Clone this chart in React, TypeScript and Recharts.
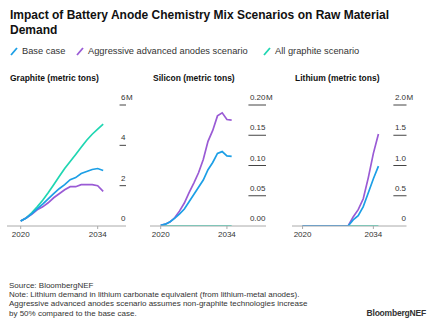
import { Line, LineChart, XAxis, YAxis } from "recharts";

const YEARS = [2020, 2021, 2022, 2023, 2024, 2025, 2026, 2027, 2028, 2029, 2030, 2031, 2032, 2033, 2034, 2035];

// million metric tons
const GRAPHITE_BASE = [0.25, 0.4, 0.6, 0.85, 1.08, 1.35, 1.6, 1.85, 2.05, 2.3, 2.4, 2.6, 2.7, 2.8, 2.85, 2.75];
const GRAPHITE_AGGRESSIVE = [0.25, 0.4, 0.58, 0.8, 0.95, 1.15, 1.4, 1.6, 1.8, 1.95, 1.95, 2.05, 2.05, 2.05, 2.0, 1.72];
const GRAPHITE_ALL = [0.25, 0.4, 0.65, 0.95, 1.28, 1.65, 2.05, 2.45, 2.85, 3.2, 3.55, 3.9, 4.25, 4.55, 4.8, 5.05];

const SILICON_BASE = [0.001, 0.003, 0.007, 0.013, 0.02, 0.028, 0.04, 0.052, 0.064, 0.076, 0.093, 0.105, 0.12, 0.123, 0.116, 0.115];
const SILICON_AGGRESSIVE = [0.001, 0.003, 0.007, 0.014, 0.025, 0.038, 0.055, 0.071, 0.088, 0.11, 0.14, 0.158, 0.182, 0.187, 0.176, 0.175];
const SILICON_ALL = [0, 0, 0, 0, 0, 0, 0, 0, 0, 0, 0, 0, 0, 0, 0, 0];

const LITHIUM_BASE = [0, 0, 0, 0, 0, 0, 0, 0, 0, 0, 0.1, 0.17, 0.32, 0.55, 0.78, 0.99];
const LITHIUM_AGGRESSIVE = [0, 0, 0, 0, 0, 0, 0, 0, 0, 0, 0.15, 0.27, 0.45, 0.8, 1.2, 1.52];
const LITHIUM_ALL = [0, 0, 0, 0, 0, 0, 0, 0, 0, 0, 0, 0, 0, 0, 0, 0];

const GRAPHITE_TICKS = [0, 2, 4, 6];
const GRAPHITE_LABELS = ["0", "2", "4", "6"];
const SILICON_TICKS = [0, 0.05, 0.1, 0.15, 0.2];
const SILICON_LABELS = ["0.00", "0.05", "0.10", "0.15", "0.20"];
const LITHIUM_TICKS = [0, 0.5, 1, 1.5, 2];
const LITHIUM_LABELS = ["0", "0.5", "1.0", "1.5", "2.0"];
const X_TICKS = [2020, 2034];

const BLUE = "#1c9fe6";
const PURPLE = "#9a5bd5";
const TEAL = "#1fd6b2";
const FONT = '"Liberation Sans", Arial, Helvetica, sans-serif';

let ctx: CanvasRenderingContext2D | null = null;
function textWidth(s: string, size: number) {
  if (!ctx) ctx = document.createElement("canvas").getContext("2d");
  if (!ctx) return s.length * size * 0.55;
  ctx.font = `${size}px ${FONT}`;
  return ctx.measureText(s).width;
}

interface PanelProps {
  title: string;
  left: number;
  plotWidth: number;
  xDomain: [number, number];
  ticks: number[];
  labels: string[];
  base: number[];
  aggressive: number[];
  allGraphite: number[];
}

function Panel({ title, left, plotWidth, xDomain, ticks, labels, base, aggressive, allGraphite }: PanelProps) {
  const data = YEARS.map((year, i) => ({
    year,
    base: base[i],
    aggressive: aggressive[i],
    allGraphite: allGraphite[i],
  }));
  const marginRight = 14;
  const width = plotWidth + marginRight;
  const right = plotWidth;

  const renderTick = (props: any) => {
    const { y, payload } = props;
    const idx = ticks.indexOf(payload.value);
    const label = labels[idx] ?? "";
    const w = textWidth(label, 8);
    return (
      <g>
        <text x={right - 0.5} y={y - 5} textAnchor="end" fontSize={8} fill="#333">
          {label}
        </text>
        {idx === ticks.length - 1 && (
          <text x={right} y={y - 5} fontSize={8} fill="#333">
            M
          </text>
        )}
        {idx > 0 && <line x1={right - w - 2} x2={right} y1={y} y2={y} stroke="#444" strokeWidth={1} />}
      </g>
    );
  };

  return (
    <>
      <div style={{ position: "absolute", left: left + 3, top: 72, fontSize: 8.5, fontWeight: 700, lineHeight: "12px", color: "#111", whiteSpace: "nowrap" }}>
        {title}
      </div>
      <div style={{ position: "absolute", left, top: 85 }}>
        <LineChart width={width} height={161} data={data} margin={{ top: 20, right: marginRight, left: 0, bottom: 0 }}>
          <XAxis
            dataKey="year"
            type="number"
            domain={xDomain}
            ticks={X_TICKS}
            allowDataOverflow
            height={20}
            stroke="#aaa"
            tickSize={3}
            tickMargin={2}
            tick={{ fontSize: 8, fill: "#333" }}
          />
          <YAxis
            orientation="right"
            mirror
            domain={[ticks[0], ticks[ticks.length - 1]]}
            ticks={ticks}
            axisLine={false}
            tickLine={false}
            tick={renderTick}
            allowDataOverflow
          />
          <Line dataKey="allGraphite" stroke={TEAL} strokeWidth={1.7} dot={false} isAnimationActive={false} />
          <Line dataKey="aggressive" stroke={PURPLE} strokeWidth={1.7} dot={false} isAnimationActive={false} />
          <Line dataKey="base" stroke={BLUE} strokeWidth={1.7} dot={false} isAnimationActive={false} />
        </LineChart>
      </div>
    </>
  );
}

function Slash({ color }: { color: string }) {
  return (
    <svg width={8} height={9} style={{ position: "absolute", left: 0, top: 2 }}>
      <line x1={1} y1={8} x2={7} y2={1} stroke={color} strokeWidth={1.8} />
    </svg>
  );
}

const LEGEND = [
  { label: "Base case", color: BLUE, x: 10 },
  { label: "Aggressive advanced anodes scenario", color: PURPLE, x: 76 },
  { label: "All graphite scenario", color: TEAL, x: 263 },
];

export default function App() {
  return (
    <div style={{ position: "absolute", left: 0, top: 0, width: 433, height: 328, background: "#fff", fontFamily: FONT, color: "#222", overflow: "hidden" }}>
      <div style={{ position: "absolute", left: 10, top: 7.5, width: 400, fontSize: 12, fontWeight: 700, lineHeight: "15px", color: "#111" }}>
        Impact of Battery Anode Chemistry Mix Scenarios on Raw Material Demand
      </div>
      {LEGEND.map((l) => (
        <div key={l.label} style={{ position: "absolute", left: l.x, top: 45, height: 12, fontSize: 9.3, lineHeight: "12px", color: "#333", whiteSpace: "nowrap" }}>
          <Slash color={l.color} />
          <span style={{ marginLeft: 12 }}>{l.label}</span>
        </div>
      ))}
      <Panel
        title="Graphite (metric tons)"
        left={7}
        plotWidth={119}
        xDomain={[2017.51, 2039.15]}
        ticks={GRAPHITE_TICKS}
        labels={GRAPHITE_LABELS}
        base={GRAPHITE_BASE}
        aggressive={GRAPHITE_AGGRESSIVE}
        allGraphite={GRAPHITE_ALL}
      />
      <Panel
        title="Silicon (metric tons)"
        left={150}
        plotWidth={116}
        xDomain={[2017.74, 2042.26]}
        ticks={SILICON_TICKS}
        labels={SILICON_LABELS}
        base={SILICON_BASE}
        aggressive={SILICON_AGGRESSIVE}
        allGraphite={SILICON_ALL}
      />
      <Panel
        title="Lithium (metric tons)"
        left={292}
        plotWidth={114.5}
        xDomain={[2017.91, 2040.55]}
        ticks={LITHIUM_TICKS}
        labels={LITHIUM_LABELS}
        base={LITHIUM_BASE}
        aggressive={LITHIUM_AGGRESSIVE}
        allGraphite={LITHIUM_ALL}
      />
      <div style={{ position: "absolute", left: 9, top: 280.5, fontSize: 8, lineHeight: "9.4px", color: "#333", whiteSpace: "nowrap" }}>
        <div>Source: BloombergNEF</div>
        <div>Note: Lithium demand in lithium carbonate equivalent (from lithium-metal anodes).</div>
        <div>Aggressive advanced anodes scenario assumes non-graphite technologies increase</div>
        <div>by 50% compared to the base case.</div>
      </div>
      <div style={{ position: "absolute", right: 7, top: 307.5, fontSize: 8.5, fontWeight: 700, lineHeight: "11px", color: "#333", letterSpacing: -0.2 }}>
        BloombergNEF
      </div>
    </div>
  );
}
